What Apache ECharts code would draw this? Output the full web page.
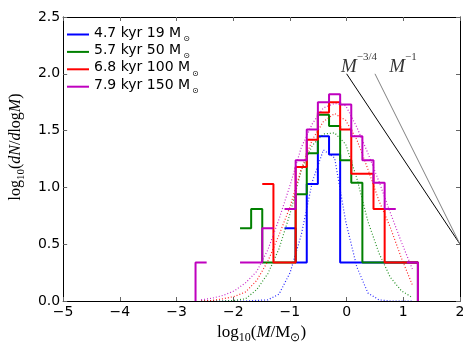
<!DOCTYPE html>
<html>
<head>
<meta charset="utf-8">
<script src="https://cdn.jsdelivr.net/npm/echarts@6/dist/echarts.min.js"></script>
<style>
  html, body { margin: 0; padding: 0; background: #fff; }
  #chart { width: 474px; height: 356px; }
</style>
</head>
<body>
<div id="chart"></div>
<script>
// bin edges / centres in log10(M/Msun)
var binEdges = [-2.665, -2.469, -2.273, -2.076, -1.880, -1.684, -1.488, -1.291, -1.095, -0.899, -0.703,
                -0.507, -0.310, -0.114, 0.082, 0.278, 0.474, 0.671, 0.867, 1.063, 1.258];
var binCentres = [-2.567, -2.371, -2.175, -1.978, -1.782, -1.586, -1.390, -1.193, -0.997, -0.801,
                  -0.605, -0.409, -0.212, -0.016, 0.180, 0.376, 0.572, 0.769, 0.965, 1.161];

var names = ['4.7 kyr 19 M', '5.7 kyr 50 M', '6.8 kyr 100 M', '7.9 kyr 150 M'];
var colors = ['#0000ff', '#008000', '#ff0000', '#bf00bf'];

// histogram values, log10(dN/dlogM), null = empty bin
var hist19  = [null, null, null, null, null, null, null, null, 0.64, 0.34, 1.03, 1.45, 1.29, 0.34, 0.34, 0.34, 0.34, 0.34, 0.34, 0.34];
var hist50  = [null, null, null, null, 0.64, 0.81, 0.34, 0.34, 0.34, 0.94, 1.30, 1.64, 1.54, 1.24, 1.04, 0.34, 0.34, 0.34, 0.34, 0.34];
var hist100 = [null, null, null, null, null, null, 1.03, 0.34, 0.34, 1.18, 1.42, 1.66, 1.75, 1.51, 1.12, 1.12, 0.81, 0.34, 0.34, 0.34];
var hist150 = [0.34, null, null, null, 0.34, 0.34, 0.64, null, 0.81, 1.24, 1.51, 1.75, 1.82, 1.73, 1.45, 1.24, 1.04, 0.81, null, 0.34];

// fitted curves at bin centres
var fit19  = [0, 0, 0, 0, 0, 0.005, 0.01, 0.06, 0.25, 0.58, 1.05, 1.33, 1.26, 0.70, 0.30, 0.07, 0.01, 0, 0, 0];
var fit50  = [0, 0, 0, 0.005, 0.02, 0.10, 0.24, 0.46, 0.77, 1.15, 1.37, 1.47, 1.48, 1.38, 1.08, 0.70, 0.42, 0.21, 0.09, 0.03];
var fit100 = [0, 0.005, 0.02, 0.04, 0.08, 0.18, 0.35, 0.58, 0.83, 1.16, 1.42, 1.58, 1.65, 1.59, 1.42, 1.16, 0.88, 0.65, 0.38, 0.14];
var fit150 = [0.01, 0.025, 0.05, 0.09, 0.16, 0.26, 0.45, 0.72, 1.02, 1.35, 1.56, 1.70, 1.74, 1.72, 1.53, 1.30, 1.05, 0.78, 0.52, 0.28];

// reference power laws
var slopeX34 = [0, 2];
var slopeY34 = [2.0, 0.5];
var slopeX1 = [0.5, 2];
var slopeY1 = [2.0, 0.5];

var hists = [hist19, hist50, hist100, hist150];
var fits = [fit19, fit50, fit100, fit150];

function stepPoints(vals) {
  var pts = [[binEdges[0], 0]];
  for (var k = 0; k < vals.length; k++) {
    if (vals[k] === null) { pts.push([binEdges[k], '-']); continue; }
    pts.push([binEdges[k], vals[k]], [binEdges[k + 1], vals[k]]);
  }
  pts.push([binEdges[binEdges.length - 1], 0]);
  return pts;
}

var series = [];
for (var i = 0; i < 4; i++) {
  series.push({
    name: names[i], type: 'line', data: stepPoints(hists[i]),
    showSymbol: false, connectNulls: false, animation: false,
    lineStyle: { color: colors[i], width: 2 }, itemStyle: { color: colors[i] }, z: 3
  });
  series.push({
    name: 'fit' + i, type: 'line', data: binCentres.map(function (x, k) { return [x, fits[i][k]]; }),
    showSymbol: false, animation: false,
    lineStyle: { color: colors[i], width: 1.2, type: [1, 2], opacity: 0.85 }, z: 3
  });
}
series.push({
  type: 'line', data: slopeX34.map(function (x, k) { return [x, slopeY34[k]]; }),
  showSymbol: false, animation: false, lineStyle: { color: '#000', width: 1 }, z: 3
});
series.push({
  type: 'line', data: slopeX1.map(function (x, k) { return [x, slopeY1[k]]; }),
  showSymbol: false, animation: false, lineStyle: { color: '#808080', width: 1 }, z: 3
});
var mathRich = {
  m: { fontFamily: 'Liberation Serif', fontStyle: 'italic', fontSize: 19, color: '#000', verticalAlign: 'top', padding: [5, 0, 0, 0] },
  s: { fontFamily: 'Liberation Serif', fontSize: 11, color: '#000', verticalAlign: 'top' }
};
series.push({
  type: 'scatter', symbolSize: 0, animation: false, z: 4,
  data: [
    { value: [-0.1, 1.98], label: { formatter: '{m|M}{s|\u22123/4}' } },
    { value: [0.75, 1.98], label: { formatter: '{m|M}{s|\u22121}' } }
  ],
  label: { show: true, position: [0, 0], align: 'left', verticalAlign: 'bottom', rich: mathRich }
});

var minus = function (v) { return v < 0 ? '\u2212' + (-v) : String(v); };
var tickStyle = { show: true, inside: true, length: 4, lineStyle: { color: '#666', width: 1 } };
var lineStyleAx = { show: true, onZero: false, lineStyle: { color: '#000', width: 1 } };
function nameRich(fs) {
  return {
    r: { fontFamily: 'Liberation Serif', fontSize: fs, color: '#000', verticalAlign: 'top' },
    i: { fontFamily: 'Liberation Serif', fontStyle: 'italic', fontSize: fs, color: '#000', verticalAlign: 'top' },
    sub: { fontFamily: 'Liberation Serif', fontSize: fs - 5, color: '#000', verticalAlign: 'top', padding: [8, 0, 0, 0] }
  };
}

var myChart = echarts.init(document.getElementById('chart'));
myChart.setOption({
  animation: false,
  grid: { left: 59, right: 14, top: 17, bottom: 55 },
  legend: {
    data: names, left: 62, top: 21, orient: 'vertical', itemWidth: 22, itemHeight: 2, itemGap: 0.4,
    icon: 'rect',
    formatter: function (n) { return '{t|' + n + '}{s|\u2299}'; },
    textStyle: {
      lineHeight: 17,
      rich: {
        t: { fontFamily: 'DejaVu Sans', fontSize: 14, lineHeight: 17, color: '#000', verticalAlign: 'top' },
        s: { fontFamily: 'DejaVu Sans', fontSize: 8, lineHeight: 8, color: '#000', verticalAlign: 'bottom', padding: [0, 0, 0, 2] }
      }
    }
  },
  xAxis: [{
    type: 'value', min: -5, max: 2, interval: 1, position: 'bottom', z: 5,
    axisLine: lineStyleAx, axisTick: tickStyle, splitLine: { show: false },
    axisLabel: { formatter: minus, fontFamily: 'DejaVu Sans', fontSize: 14, color: '#000', margin: 4 },
    name: '{r|log}{sub|10}{r|(}{i|M}{r|/M}{sub|\u2299}{r|)}', nameLocation: 'middle', nameGap: 19,
    nameTextStyle: { rich: nameRich(17) }
  }, {
    type: 'value', min: -5, max: 2, interval: 1, position: 'top', z: 5,
    axisLine: lineStyleAx, axisTick: tickStyle, axisLabel: { show: false }, splitLine: { show: false }
  }],
  yAxis: [{
    type: 'value', min: 0, max: 2.5, interval: 0.5, position: 'left', z: 5,
    axisLine: lineStyleAx, axisTick: tickStyle, splitLine: { show: false },
    axisLabel: { formatter: function (v) { return v.toFixed(1); }, fontFamily: 'DejaVu Sans', fontSize: 14, color: '#000', margin: 3 },
    name: '{r|log}{sub|10}{r|(}{i|dN}{r|/}{i|d}{r|log}{i|M}{r|)}', nameLocation: 'middle', nameGap: 31, nameRotate: 90,
    nameTextStyle: { rich: nameRich(16), padding: [0, 0, 0, 24] }
  }, {
    type: 'value', min: 0, max: 2.5, interval: 0.5, position: 'right', z: 5,
    axisLine: lineStyleAx, axisTick: tickStyle, axisLabel: { show: false }, splitLine: { show: false }
  }],
  series: series
});
</script>
</body>
</html>
